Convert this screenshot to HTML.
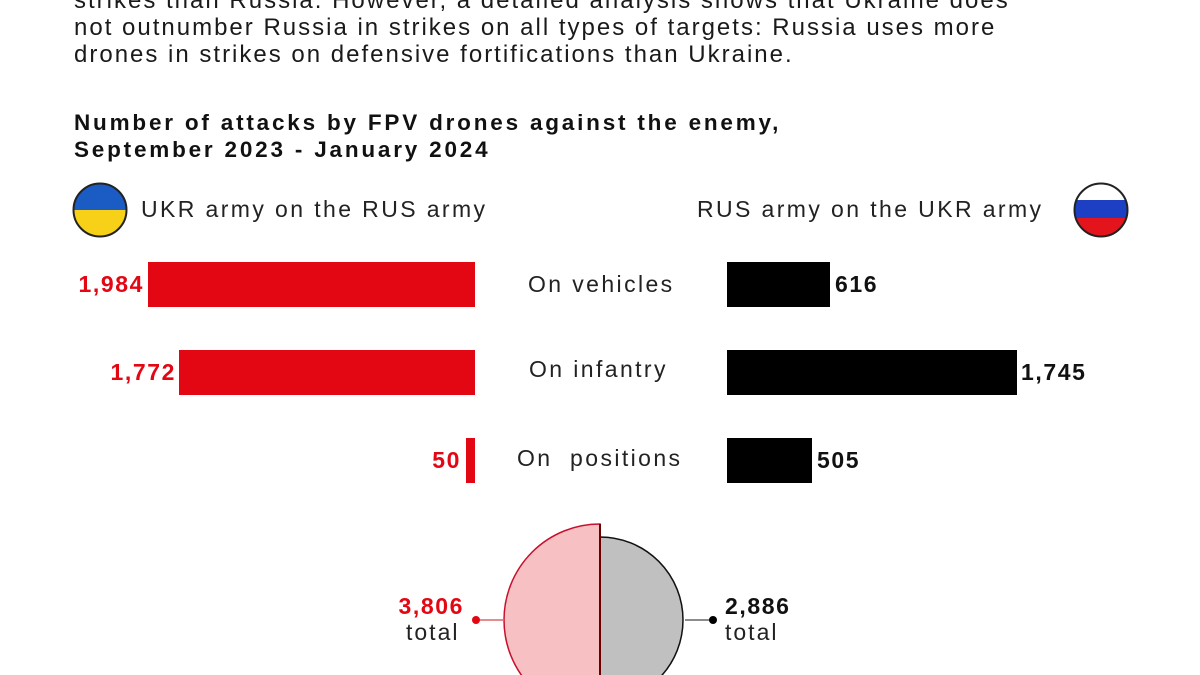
<!DOCTYPE html>
<html style="overflow:hidden"><head><meta charset="utf-8"><style>
html,body{margin:0;width:1200px;height:675px;overflow:hidden}
body{background:#fff;font-family:"Liberation Sans",sans-serif;position:relative;color:#111}
.t{position:absolute;white-space:nowrap}
.body{left:74px;font-size:24px;line-height:27px;top:-13px;color:#1a1a1a;letter-spacing:2px}
.title{left:74px;top:109px;font-size:22.5px;font-weight:bold;line-height:27px;letter-spacing:2.8px}
.leg{font-size:23px;top:196px;color:#222;letter-spacing:2.4px}
.bar{position:absolute;height:45px}
.r{background:#e30613}.k{background:#000}
.lab{font-size:23px;font-weight:900;position:absolute;letter-spacing:1.6px;white-space:nowrap}
.rl{text-align:right;width:100px}
.cat{font-size:23px;position:absolute;color:#222;letter-spacing:2.4px;white-space:nowrap}
</style></head><body>
<div class="t body">strikes than Russia. However, a detailed analysis shows that Ukraine does<br>not outnumber Russia in strikes on all types of targets: Russia uses more<br>drones in strikes on defensive fortifications than Ukraine.</div>
<div class="t title">Number of attacks by FPV drones against the enemy,<br>September 2023 - January 2024</div>
<svg style="position:absolute;left:0;top:0;overflow:hidden" width="1200" height="675">
<clipPath id="c1"><circle cx="100" cy="210" r="26"/></clipPath>
<g clip-path="url(#c1)"><rect x="70" y="180" width="60" height="30" fill="#1a5bc4"/><rect x="70" y="210" width="60" height="30" fill="#f7d117"/></g>
<circle cx="100" cy="210" r="26.5" fill="none" stroke="#222" stroke-width="2"/>
<clipPath id="c2"><circle cx="1101" cy="210" r="26"/></clipPath>
<g clip-path="url(#c2)"><rect x="1070" y="180" width="60" height="20" fill="#fff"/><rect x="1070" y="200" width="60" height="18" fill="#1c3fc4"/><rect x="1070" y="218" width="60" height="22" fill="#e3141c"/></g>
<circle cx="1101" cy="210" r="26.5" fill="none" stroke="#222" stroke-width="2"/>
<path d="M600 524 A96 96 0 0 0 600 716 Z" fill="#f7c0c3" stroke="#c8102e" stroke-width="1.5"/>
<path d="M600 537 A83 83 0 0 1 600 703 Z" fill="#c0c0c0" stroke="#111" stroke-width="1.5"/>
<line x1="600" y1="524" x2="600" y2="675" stroke="#6a0000" stroke-width="2"/>
<line x1="476" y1="620" x2="504" y2="620" stroke="#d66" stroke-width="1.5"/><circle cx="476" cy="620" r="4" fill="#e30613"/>
<line x1="685" y1="620" x2="713" y2="620" stroke="#666" stroke-width="1.5"/><circle cx="713" cy="620" r="4" fill="#000"/>
</svg>
<div class="t leg" style="left:141px">UKR army on the RUS army</div>
<div class="t leg" style="left:697px">RUS army on the UKR army</div>
<div class="bar r" style="left:148px;width:327px;top:262px"></div>
<div class="bar k" style="left:727px;width:103px;top:262px"></div>
<div class="bar r" style="left:179px;width:296px;top:350px"></div>
<div class="bar k" style="left:727px;width:290px;top:350px"></div>
<div class="bar r" style="left:466px;width:9px;top:438px"></div>
<div class="bar k" style="left:727px;width:85px;top:438px"></div>
<div class="lab rl" style="left:44px;top:271px;color:#e30613">1,984</div>
<div class="lab" style="left:835px;top:271px">616</div>
<div class="lab rl" style="left:76px;top:359px;color:#e30613">1,772</div>
<div class="lab" style="left:1021px;top:359px">1,745</div>
<div class="lab rl" style="left:361px;top:447px;color:#e30613">50</div>
<div class="lab" style="left:817px;top:447px">505</div>
<div class="cat" style="left:528px;top:271px">On vehicles</div>
<div class="cat" style="left:529px;top:356px">On infantry</div>
<div class="cat" style="left:517px;top:445px">On&nbsp; positions</div>
<div class="lab rl" style="left:364px;top:593px;color:#e30613">3,806</div>
<div class="t" style="left:406px;top:619px;font-size:23px;color:#222;letter-spacing:2px">total</div>
<div class="lab" style="left:725px;top:593px">2,886</div>
<div class="t" style="left:725px;top:619px;font-size:23px;color:#222;letter-spacing:2px">total</div>
</body></html>
